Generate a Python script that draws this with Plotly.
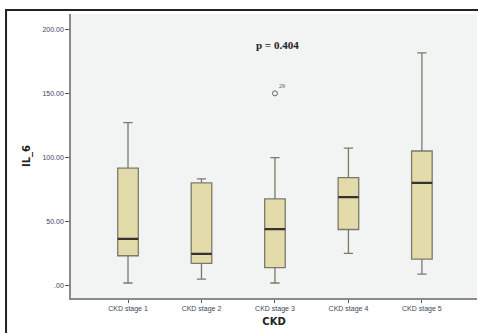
import plotly.graph_objects as go

categories = ["CKD stage 1", "CKD stage 2", "CKD stage 3", "CKD stage 4", "CKD stage 5"]
lower = [1.9, 5.0, 1.9, 25.0, 8.9]
q1 = [23.2, 17.2, 14.0, 43.7, 20.6]
median = [36.4, 24.7, 44.0, 69.0, 80.1]
q3 = [91.6, 80.1, 67.6, 84.2, 105.0]
upper = [127.1, 83.2, 99.8, 107.2, 181.7]
outlier_cat = ["CKD stage 3"]
outlier_val = [150.0]
outlier_lbl = ["29"]
tick_vals = [0, 50, 100, 150, 200]
tick_text = [".00", "50.00", "100.00", "150.00", "200.00"]

fig = go.Figure()
fig.add_trace(go.Box(
    x=categories, q1=q1, median=median, q3=q3, lowerfence=lower, upperfence=upper,
    fillcolor="#e3dbaa", line=dict(color="#7a7a6a", width=1.3),
    width=0.28, whiskerwidth=0.45, boxpoints=False, hoverinfo="skip", showlegend=False,
))
fig.add_trace(go.Box(
    x=categories, q1=median, median=median, q3=median, lowerfence=median, upperfence=median,
    fillcolor="rgba(0,0,0,0)", line=dict(color="#333333", width=2.2),
    width=0.28, whiskerwidth=0, boxpoints=False, hoverinfo="skip", showlegend=False,
))
fig.add_trace(go.Scatter(
    x=outlier_cat, y=outlier_val, mode="markers+text", text=outlier_lbl,
    textposition="top right", textfont=dict(family="Liberation Serif", size=6, color="#555555"),
    marker=dict(symbol="circle-open", size=5, color="#666666", line=dict(width=1)),
    showlegend=False, hoverinfo="skip", cliponaxis=False,
))

fig.add_annotation(x=2.04, y=187.8, xref="x", yref="y", text="<b>p = 0.404</b>", showarrow=False,
                   font=dict(family="Liberation Serif", size=11, color="#222"))

fig.add_shape(type="rect", xref="paper", yref="paper", x0=-0.16, x1=1.2, y0=-0.3, y1=1.014,
              line=dict(color="#222", width=2), fillcolor="rgba(0,0,0,0)", layer="above")

fig.update_layout(
    width=478, height=333, margin=dict(l=71, r=1, t=14, b=35),
    paper_bgcolor="white", plot_bgcolor="#f2f3f3",
    boxmode="overlay",
    xaxis=dict(type="category", categoryorder="array", categoryarray=categories,
               range=[-0.776, 4.75], showgrid=False, zeroline=False,
               showline=True, linecolor="#8a8a8a", linewidth=1.5,
               ticks="outside", ticklen=3, tickcolor="#555",
               tickfont=dict(family="Liberation Sans", size=7, color="#3c465a"),
               title=dict(text="<b>CKD</b>", font=dict(family="DejaVu Sans", size=10, color="#222"), standoff=6)),
    yaxis=dict(range=[-9.8, 212], tickvals=tick_vals, ticktext=tick_text, showgrid=False, zeroline=False,
               showline=True, linecolor="#8a8a8a", linewidth=1.5,
               ticks="outside", ticklen=4, tickcolor="#555",
               tickfont=dict(family="Liberation Sans", size=7, color="#3c465a"),
               title=dict(text="<b>IL_6</b>", font=dict(family="DejaVu Sans", size=10, color="#222"), standoff=10)),
)

fig.write_html("out.html")
